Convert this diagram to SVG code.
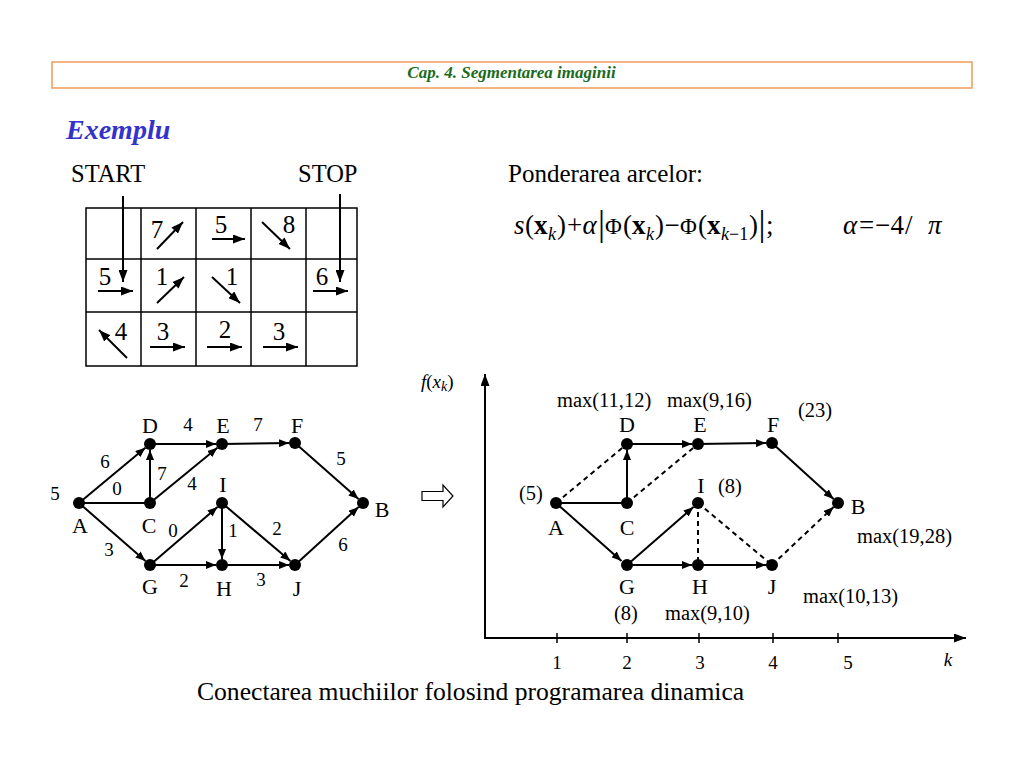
<svg xmlns="http://www.w3.org/2000/svg" width="1024" height="768" viewBox="0 0 1024 768">
<style>
text{font-family:"Liberation Serif","Times New Roman",serif;fill:#000}
.it{font-style:italic}
.b{font-weight:bold}
.big{font-size:25px}
.gn{font-size:25px;text-anchor:middle}
.nl{font-size:22px;text-anchor:middle}
.w{font-size:19px;text-anchor:middle}
.ml{font-size:20.5px}
.tk{font-size:19px;text-anchor:middle}
.fm{font-size:27px}
.phi{font-size:23px}
.bar{font-size:35px}
.sub{font-size:18px;font-style:italic}
.edge{stroke:#000;stroke-width:2;fill:none}
.arr{marker-end:url(#ah)}
.dash{stroke-dasharray:5,4}
.ga{stroke:#000;stroke-width:2;fill:none;marker-end:url(#ahg)}
.grid{stroke:#000;stroke-width:1.5;fill:none}
.dot{fill:#000}
</style>
<defs>
<marker id="ah" viewBox="0 0 10 8" refX="10" refY="4" markerWidth="10" markerHeight="8" markerUnits="userSpaceOnUse" orient="auto"><path d="M0,0L10,4L0,8z" fill="#000"/></marker>
<marker id="ahg" viewBox="0 0 12 9" refX="12" refY="4.5" markerWidth="12" markerHeight="9" markerUnits="userSpaceOnUse" orient="auto"><path d="M0,0L12,4.5L0,9z" fill="#000"/></marker>
<marker id="ax" viewBox="0 0 12 9" refX="12" refY="4.5" markerWidth="12" markerHeight="9" markerUnits="userSpaceOnUse" orient="auto"><path d="M0,0L12,4.5L0,9z" fill="#000"/></marker>
</defs>
<rect width="1024" height="768" fill="#fff"/>

<!-- header -->
<g id="header">
<rect x="52" y="62" width="920" height="26" fill="none" stroke="#f09a5a" stroke-width="1.5"/>
<text x="511.5" y="78" text-anchor="middle" class="it b" style="font-size:17px;fill:#1a6b1a">Cap. 4. Segmentarea imaginii</text>
</g>
<text x="66" y="139" class="it b" style="font-size:28px;fill:#3333cc">Exemplu</text>
<text x="71" y="182" class="big" style="font-size:24.5px">START</text>
<text x="298" y="182" class="big" style="font-size:24.5px">STOP</text>
<text x="508" y="182" class="big">Ponderarea arcelor:</text>

<!-- grid -->
<g id="grid">
<rect class="grid" x="86" y="208" width="271" height="158"/>
<line class="grid" x1="141" y1="208" x2="141" y2="366"/>
<line class="grid" x1="196" y1="208" x2="196" y2="366"/>
<line class="grid" x1="251" y1="208" x2="251" y2="366"/>
<line class="grid" x1="306" y1="208" x2="306" y2="366"/>
<line class="grid" x1="86" y1="259" x2="357" y2="259"/>
<line class="grid" x1="86" y1="312" x2="357" y2="312"/>
<line class="ga" x1="123" y1="196" x2="123" y2="282"/>
<line class="ga" x1="340" y1="194" x2="340" y2="282"/>
<line class="ga" x1="157" y1="249" x2="183" y2="222"/>
<line class="ga" x1="212" y1="239" x2="245" y2="239"/>
<line class="ga" x1="262" y1="222" x2="290" y2="249"/>
<line class="ga" x1="98" y1="291" x2="133" y2="291"/>
<line class="ga" x1="157" y1="303" x2="184" y2="277"/>
<line class="ga" x1="212" y1="277" x2="240" y2="303"/>
<line class="ga" x1="313" y1="291" x2="348" y2="291"/>
<line class="ga" x1="127" y1="358" x2="99" y2="330"/>
<line class="ga" x1="150" y1="347" x2="185" y2="347"/>
<line class="ga" x1="207" y1="347" x2="242" y2="347"/>
<line class="ga" x1="263" y1="347" x2="298" y2="347"/>
<text class="gn" x="157" y="238">7</text>
<text class="gn" x="221" y="233">5</text>
<text class="gn" x="289" y="233">8</text>
<text class="gn" x="105" y="285">5</text>
<text class="gn" x="162" y="285">1</text>
<text class="gn" x="232" y="285">1</text>
<text class="gn" x="322" y="285">6</text>
<text class="gn" x="121" y="340">4</text>
<text class="gn" x="163" y="340">3</text>
<text class="gn" x="225" y="338">2</text>
<text class="gn" x="279" y="340">3</text>
</g>

<!-- formula -->
<g id="formula">
<text x="514" y="234" class="fm it">s</text>
<text x="525" y="234" class="fm">(</text>
<text x="534" y="234" class="fm b">x</text>
<text x="548" y="240" class="sub">k</text>
<text x="557" y="234" class="fm">)</text>
<text x="567" y="234" class="fm">+</text>
<text x="582.5" y="234" class="fm it">α</text>
<text x="598" y="235" class="bar">|</text>
<text x="605" y="234" class="phi">Φ</text>
<text x="623" y="234" class="fm">(</text>
<text x="632" y="234" class="fm b">x</text>
<text x="646" y="240" class="sub">k</text>
<text x="655" y="234" class="fm">)</text>
<text x="664.5" y="234" class="fm">−</text>
<text x="680" y="234" class="phi">Φ</text>
<text x="698" y="234" class="fm">(</text>
<text x="707" y="234" class="fm b">x</text>
<text x="721" y="240" class="sub">k<tspan font-style="normal">−1</tspan></text>
<text x="749" y="234" class="fm">)</text>
<text x="758.5" y="235" class="bar">|</text>
<text x="766" y="234" class="fm">;</text>
<text x="843" y="234" class="fm it">α</text>
<text x="859" y="234" class="fm">=</text>
<text x="875" y="234" class="fm">−</text>
<text x="890.5" y="234" class="fm">4</text>
<text x="905" y="234" class="fm">/</text>
<text x="928" y="234" class="fm it">π</text>
</g>

<!-- left graph -->
<g id="left-connectors">
<line class="edge arr" x1="79" y1="503" x2="145.4" y2="447.8"/>
<line class="edge" x1="79" y1="503" x2="150" y2="503"/>
<line class="edge arr" x1="150" y1="503" x2="150" y2="450"/>
<line class="edge arr" x1="150" y1="503" x2="217.4" y2="447.8"/>
<line class="edge arr" x1="150" y1="444" x2="216" y2="444"/>
<line class="edge arr" x1="222" y1="444" x2="289" y2="443"/>
<line class="edge arr" x1="295" y1="443" x2="358.5" y2="499"/>
<line class="edge arr" x1="79" y1="503" x2="145.5" y2="561"/>
<line class="edge arr" x1="150" y1="565" x2="217.5" y2="507"/>
<line class="edge arr" x1="150" y1="565" x2="216" y2="565"/>
<line class="edge arr" x1="222" y1="503" x2="222" y2="559"/>
<line class="edge arr" x1="222" y1="503" x2="290.4" y2="561"/>
<line class="edge arr" x1="222" y1="565" x2="289" y2="565"/>
<line class="edge arr" x1="295" y1="565" x2="358.6" y2="507"/>
</g>
<g id="left-weights">
<text class="w" x="188" y="431">4</text>
<text class="w" x="258" y="431">7</text>
<text class="w" x="105" y="468">6</text>
<text class="w" x="55" y="500">5</text>
<text class="w" x="117" y="495">0</text>
<text class="w" x="162" y="480">7</text>
<text class="w" x="192" y="490">4</text>
<text class="w" x="341" y="465">5</text>
<text class="w" x="173" y="537">0</text>
<text class="w" x="233" y="537">1</text>
<text class="w" x="277" y="535">2</text>
<text class="w" x="109" y="556">3</text>
<text class="w" x="343" y="551">6</text>
<text class="w" x="184" y="587">2</text>
<text class="w" x="261" y="586">3</text>
</g>
<g id="L-A"><circle class="dot" cx="79" cy="503" r="6"/><text class="nl" x="80" y="533">A</text></g>
<g id="L-D"><circle class="dot" cx="150" cy="444" r="6"/><text class="nl" x="150" y="433">D</text></g>
<g id="L-C"><circle class="dot" cx="150" cy="503" r="6"/><text class="nl" x="149" y="533">C</text></g>
<g id="L-E"><circle class="dot" cx="222" cy="444" r="6"/><text class="nl" x="223" y="433">E</text></g>
<g id="L-F"><circle class="dot" cx="295" cy="443" r="6"/><text class="nl" x="297" y="433">F</text></g>
<g id="L-I"><circle class="dot" cx="222" cy="503" r="6"/><text class="nl" x="223" y="492">I</text></g>
<g id="L-B"><circle class="dot" cx="363" cy="503" r="6"/><text class="nl" x="382" y="517">B</text></g>
<g id="L-G"><circle class="dot" cx="150" cy="565" r="6"/><text class="nl" x="150" y="594">G</text></g>
<g id="L-H"><circle class="dot" cx="222" cy="565" r="6"/><text class="nl" x="224" y="596">H</text></g>
<g id="L-J"><circle class="dot" cx="295" cy="565" r="6"/><text class="nl" x="297" y="596">J</text></g>

<!-- implication arrow -->
<path id="implies" d="M422,491.5H443V485L453,496L443,507V500.5H422Z" fill="#fff" stroke="#000" stroke-width="1.2"/>

<!-- axes -->
<g id="axes">
<line x1="485" y1="638" x2="485" y2="374" stroke="#000" stroke-width="2" marker-end="url(#ax)"/>
<line x1="484" y1="638" x2="966" y2="638" stroke="#000" stroke-width="2" marker-end="url(#ax)"/>
<line x1="557" y1="633" x2="557" y2="643" stroke="#000" stroke-width="1.5"/>
<line x1="627" y1="633" x2="627" y2="643" stroke="#000" stroke-width="1.5"/>
<line x1="699" y1="633" x2="699" y2="643" stroke="#000" stroke-width="1.5"/>
<line x1="773" y1="633" x2="773" y2="643" stroke="#000" stroke-width="1.5"/>
<line x1="838" y1="633" x2="838" y2="643" stroke="#000" stroke-width="1.5"/>
<text class="tk" x="557" y="669">1</text>
<text class="tk" x="627" y="669">2</text>
<text class="tk" x="700" y="669">3</text>
<text class="tk" x="773" y="669">4</text>
<text class="tk" x="848" y="669">5</text>
<text class="tk it" x="948" y="666">k</text>
<text x="421" y="388" style="font-size:19px"><tspan font-style="italic">f</tspan>(<tspan font-style="italic">x</tspan><tspan font-style="italic" font-size="14" dy="3">k</tspan><tspan dy="-3">)</tspan></text>
</g>

<!-- right graph -->
<g id="right-connectors">
<line class="edge dash" x1="556" y1="503" x2="627" y2="444" stroke-width="1.5"/>
<line class="edge" x1="556" y1="503" x2="627" y2="503"/>
<line class="edge arr" x1="627" y1="503" x2="627" y2="450"/>
<line class="edge dash" x1="627" y1="503" x2="698" y2="444" stroke-width="1.5"/>
<line class="edge arr" x1="627" y1="444" x2="692" y2="444"/>
<line class="edge arr" x1="698" y1="444" x2="766" y2="443"/>
<line class="edge arr" x1="772" y1="443" x2="833.6" y2="499"/>
<line class="edge arr" x1="556" y1="503" x2="621.5" y2="561"/>
<line class="edge arr" x1="627" y1="565" x2="693.5" y2="507"/>
<line class="edge arr" x1="627" y1="565" x2="692" y2="565"/>
<line class="edge dash" x1="698" y1="503" x2="698" y2="565" stroke-width="1.5"/>
<line class="edge dash" x1="698" y1="503" x2="772" y2="565" stroke-width="1.5"/>
<line class="edge arr" x1="698" y1="565" x2="766" y2="565"/>
<line class="edge arr dash" x1="772" y1="565" x2="833.6" y2="507"/>
</g>
<g id="R-A"><circle class="dot" cx="556" cy="503" r="6"/><text class="nl" x="556" y="535">A</text><text class="ml" x="519" y="500">(5)</text></g>
<g id="R-C"><circle class="dot" cx="627" cy="503" r="6"/><text class="nl" x="627" y="535">C</text></g>
<g id="R-D"><circle class="dot" cx="627" cy="444" r="6"/><text class="nl" x="627" y="432">D</text><text class="ml" x="557" y="407">max(11,12)</text></g>
<g id="R-E"><circle class="dot" cx="698" cy="444" r="6"/><text class="nl" x="700" y="432">E</text><text class="ml" x="667" y="407">max(9,16)</text></g>
<g id="R-F"><circle class="dot" cx="772" cy="443" r="6"/><text class="nl" x="773" y="432">F</text><text class="ml" x="798" y="417">(23)</text></g>
<g id="R-I"><circle class="dot" cx="698" cy="503" r="6"/><text class="nl" x="701" y="493">I</text><text class="ml" x="718" y="493">(8)</text></g>
<g id="R-B"><circle class="dot" cx="838" cy="503" r="6"/><text class="nl" x="858" y="514">B</text><text class="ml" x="857" y="543">max(19,28)</text></g>
<g id="R-G"><circle class="dot" cx="627" cy="565" r="6"/><text class="nl" x="627" y="594">G</text><text class="ml" x="614" y="620">(8)</text></g>
<g id="R-H"><circle class="dot" cx="698" cy="565" r="6"/><text class="nl" x="700" y="594">H</text><text class="ml" x="665" y="620">max(9,10)</text></g>
<g id="R-J"><circle class="dot" cx="772" cy="565" r="6"/><text class="nl" x="772" y="594">J</text><text class="ml" x="803" y="603">max(10,13)</text></g>

<text x="197" y="700" class="big" style="font-size:25.6px">Conectarea muchiilor folosind programarea dinamica</text>
</svg>
